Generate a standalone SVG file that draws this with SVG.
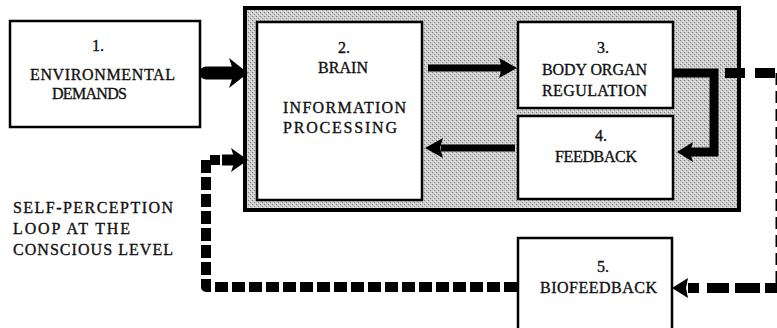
<svg xmlns="http://www.w3.org/2000/svg" width="777" height="328" viewBox="0 0 777 328">
<defs>
<pattern id="stip" width="4" height="4" patternUnits="userSpaceOnUse">
<rect width="4" height="4" fill="#cbcbcb"/>
<rect x="0" y="0" width="1" height="1" fill="#7a7a7a"/>
<rect x="2" y="2" width="1" height="1" fill="#8a8a8a"/>
<rect x="3" y="1" width="1" height="1" fill="#eeeeee"/>
<rect x="1" y="3" width="1" height="1" fill="#f2f2f2"/>
</pattern>
</defs>
<style>
.box{fill:#fff;stroke:#000;stroke-width:2.5}
.t{font-family:"Liberation Serif","Times New Roman",serif;font-size:16px;fill:#111;stroke:#111;stroke-width:0.35}
.solid{fill:none;stroke:#000;stroke-linejoin:miter}
.dash{fill:none;stroke:#000;stroke-linejoin:round}
.head{fill:#000}
</style>
<rect id="outer" x="245" y="8" width="494" height="202" fill="url(#stip)" stroke="#000" stroke-width="4"/>

<g id="node1">
<rect class="box" x="10" y="21" width="190" height="106"/>
<text class="t" x="92" y="51">1.</text>
<text class="t" x="30" y="80" textLength="145" lengthAdjust="spacing">ENVIRONMENTAL</text>
<text class="t" x="52" y="99" textLength="75" lengthAdjust="spacing">DEMANDS</text>
</g>
<g id="node2">
<rect class="box" x="257" y="22" width="165" height="178"/>
<text class="t" x="338" y="53">2.</text>
<text class="t" x="318" y="73" textLength="50" lengthAdjust="spacing">BRAIN</text>
<text class="t" x="283" y="113" textLength="123" lengthAdjust="spacing">INFORMATION</text>
<text class="t" x="283" y="133" textLength="114" lengthAdjust="spacing">PROCESSING</text>
</g>
<g id="node3">
<rect class="box" x="518" y="22" width="155" height="86"/>
<text class="t" x="597" y="53">3.</text>
<text class="t" x="542" y="75" textLength="105" lengthAdjust="spacing">BODY ORGAN</text>
<text class="t" x="542" y="96" textLength="105" lengthAdjust="spacing">REGULATION</text>
</g>
<g id="node4">
<rect class="box" x="518" y="116" width="155" height="83"/>
<text class="t" x="595" y="141">4.</text>
<text class="t" x="555" y="162" textLength="82" lengthAdjust="spacing">FEEDBACK</text>
</g>
<g id="node5">
<rect class="box" x="518" y="238" width="154" height="100"/>
<text class="t" x="597" y="272">5.</text>
<text class="t" x="540" y="293" textLength="117" lengthAdjust="spacing">BIOFEEDBACK</text>
</g>
<g id="label">
<text class="t" x="13" y="213" textLength="160" lengthAdjust="spacing">SELF-PERCEPTION</text>
<text class="t" x="13" y="234" textLength="117" lengthAdjust="spacing">LOOP AT THE</text>
<text class="t" x="13" y="255" textLength="160" lengthAdjust="spacing">CONSCIOUS LEVEL</text>
</g>

<g id="connectors">
<path class="solid" d="M206,73 H234" stroke-width="13" stroke-linecap="round"/>
<path class="head" d="M248,73 L229,58 L234,73 L229,88 Z"/>
<path class="solid" d="M428,68 H502" stroke-width="7"/>
<path class="head" d="M517,68 L499,58 L502,68 L499,78 Z"/>
<path class="solid" d="M515,148 H441" stroke-width="7"/>
<path class="head" d="M425,148 L443,138 L440,148 L443,158 Z"/>
<path class="solid" d="M674,73 H714 V152 H690" stroke-width="9"/>
<path class="head" d="M677,152 L693,142 L690,152 L693,162 Z"/>
<path class="dash" d="M725,73 H777" stroke-width="10" stroke-dasharray="20 10"/>
<path class="dash" d="M777,73 V288" stroke-width="3" stroke-dasharray="12 6"/>
<path class="dash" d="M777,288 H688" stroke-width="10" stroke-dasharray="12 5 25 6 22 8 12 100"/>
<path class="head" d="M672,288 L688,278 L686,288 L688,298 Z"/>
<path class="dash" d="M517,287 H206 V160 H220" stroke-width="10" stroke-dasharray="13 4"/>
<path class="solid" d="M222,160 H236" stroke-width="11"/>
<path class="head" d="M248,160 L231,148 L235,160 L231,172 Z"/>
</g>
</svg>
